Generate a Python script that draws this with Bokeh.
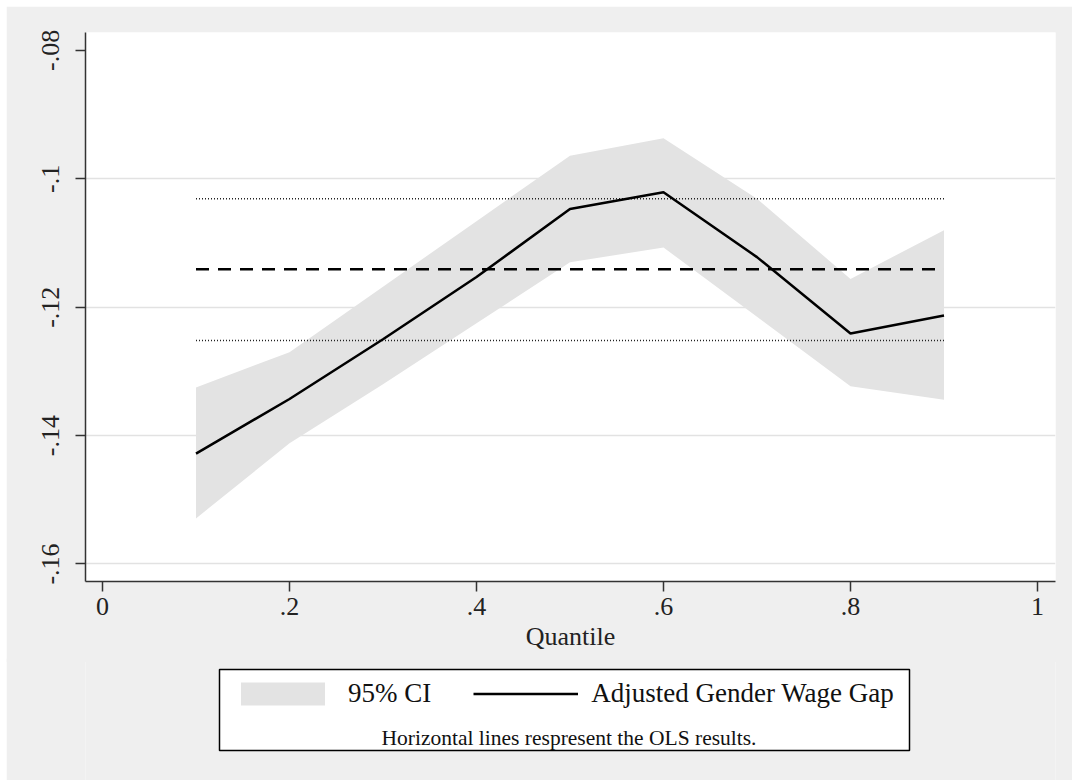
from bokeh.plotting import figure
from bokeh.models import FixedTicker, Range1d, Legend, LegendItem, Label, ColumnDataSource, BoxAnnotation
from bokeh.layouts import column
from bokeh.embed import file_html
from bokeh.resources import INLINE

# ---- data ----
quantiles = [0.1, 0.2, 0.3, 0.4, 0.5, 0.6, 0.7, 0.8, 0.9]
gap = [-0.1428, -0.1343, -0.1250, -0.1153, -0.1047, -0.1021, -0.1122, -0.1241, -0.1213]
ci_upper = [-0.1325, -0.1270, -0.1168, -0.1066, -0.0964, -0.0937, -0.1031, -0.1156, -0.1080]
ci_lower = [-0.1529, -0.1412, -0.1320, -0.1225, -0.1130, -0.1107, -0.1215, -0.1323, -0.1344]
ols_coef = -0.1141
ols_upper = -0.1031
ols_lower = -0.1252

x_ticks = [0, 0.2, 0.4, 0.6, 0.8, 1]
x_tick_labels = ["0", ".2", ".4", ".6", ".8", "1"]
y_ticks = [-0.16, -0.14, -0.12, -0.1, -0.08]
y_tick_labels = ["-.16", "-.14", "-.12", "-.1", "-.08"]
y_grid = [-0.16, -0.14, -0.12, -0.1]

FONT = "Liberation Serif"
BG = "#efefef"
CI_COLOR = "#e3e3e3"
AXIS_COLOR = "#333333"

p = figure(width=1066, height=656,
           x_range=Range1d(-0.01818, 1.01925), y_range=Range1d(-0.16273, -0.07721),
           output_backend="svg", toolbar_location=None,
           min_border_left=79, min_border_right=17, min_border_top=26, min_border_bottom=81)
p.margin = (6, 0, 0, 6)
p.background_fill_color = "white"
p.border_fill_color = BG
p.outline_line_color = None

src = ColumnDataSource(data=dict(q=quantiles, gap=gap, lo=ci_lower, hi=ci_upper))
p.varea(x="q", y1="lo", y2="hi", source=src, fill_color=CI_COLOR, fill_alpha=1.0)

x_ends = [quantiles[0], quantiles[-1]]
p.line(x=x_ends, y=[ols_upper, ols_upper], line_color="#222222", line_width=1.5, line_dash="1 2")
p.line(x=x_ends, y=[ols_lower, ols_lower], line_color="#222222", line_width=1.5, line_dash="1 2")
p.line(x=x_ends, y=[ols_coef, ols_coef], line_color="black", line_width=2.5, line_dash="13 9")
p.line(x="q", y="gap", source=src, line_color="black", line_width=2.5)

# axes
p.xaxis.ticker = FixedTicker(ticks=x_ticks)
p.xaxis.major_label_overrides = dict(zip(x_ticks, x_tick_labels))
p.yaxis.ticker = FixedTicker(ticks=y_ticks)
p.yaxis.major_label_overrides = dict(zip(y_ticks, y_tick_labels))
p.yaxis.major_label_orientation = "vertical"
for ax in (p.xaxis, p.yaxis):
    ax.axis_line_color = AXIS_COLOR
    ax.axis_line_width = 1.5
    ax.major_tick_line_color = AXIS_COLOR
    ax.major_tick_line_width = 1.5
    ax.major_tick_out = 10
    ax.major_tick_in = 0
    ax.minor_tick_line_color = None
    ax.major_label_text_font = FONT
    ax.major_label_text_font_size = "26px"
    ax.major_label_text_color = "#222222"
p.xaxis.major_label_standoff = 6
p.yaxis.major_label_standoff = 16
p.xaxis.axis_label = "Quantile"
p.xaxis.axis_label_text_font = FONT
p.xaxis.axis_label_text_font_size = "26px"
p.xaxis.axis_label_text_font_style = "normal"
p.xaxis.axis_label_text_color = "#222222"
p.xaxis.axis_label_standoff = 4

p.xgrid.visible = False
p.ygrid.ticker = FixedTicker(ticks=y_grid)
p.ygrid.grid_line_color = "#e2e2e2"
p.ygrid.grid_line_width = 1.5

# ---- legend panel: a second figure whose frame is measured in pixels ----
p2 = figure(width=1066, height=122, x_range=Range1d(0, 970), y_range=Range1d(5, 127),
            output_backend="svg", toolbar_location=None,
            x_axis_type=None, y_axis_type=None,
            min_border_left=79, min_border_right=17, min_border_top=0, min_border_bottom=0)
p2.margin = (-4, 0, 0, 6)
p2.background_fill_color = BG
p2.border_fill_color = BG
p2.outline_line_color = None
p2.grid.visible = False

# legend-key renderers (same data; they fall outside this panel's ranges, so only the keys show)
k_ci = p2.varea(x="q", y1="lo", y2="hi", source=src, fill_color=CI_COLOR, fill_alpha=1.0)
k_ln = p2.line(x="q", y="gap", source=src, line_color="black", line_width=2.5)

box = BoxAnnotation(left=134, right=824, top=116, bottom=35,
                    fill_color="white", fill_alpha=1.0, line_color="black", line_width=1.5, line_alpha=1.0,
                    level="underlay")
p2.add_layout(box)

leg = Legend(items=[LegendItem(label="95% CI", renderers=[k_ci]),
                    LegendItem(label="Adjusted Gender Wage Gap", renderers=[k_ln])],
             location=(145, 71), orientation="horizontal",
             glyph_width=105, glyph_height=29, label_height=29, label_standoff=13, spacing=42,
             padding=0, margin=0, border_line_alpha=0, background_fill_alpha=0,
             label_text_font=FONT, label_text_font_size="27px", label_text_color="#111111")
p2.add_layout(leg)

note = Label(x=483.5, y=48, text="Horizontal lines respresent the OLS results.",
             text_align="center", text_baseline="alphabetic",
             text_font=FONT, text_font_size="21.5px", text_color="#111111")
p2.add_layout(note)

layout = column(p, p2, spacing=0)
open("out.html", "w").write(file_html(layout, INLINE))
